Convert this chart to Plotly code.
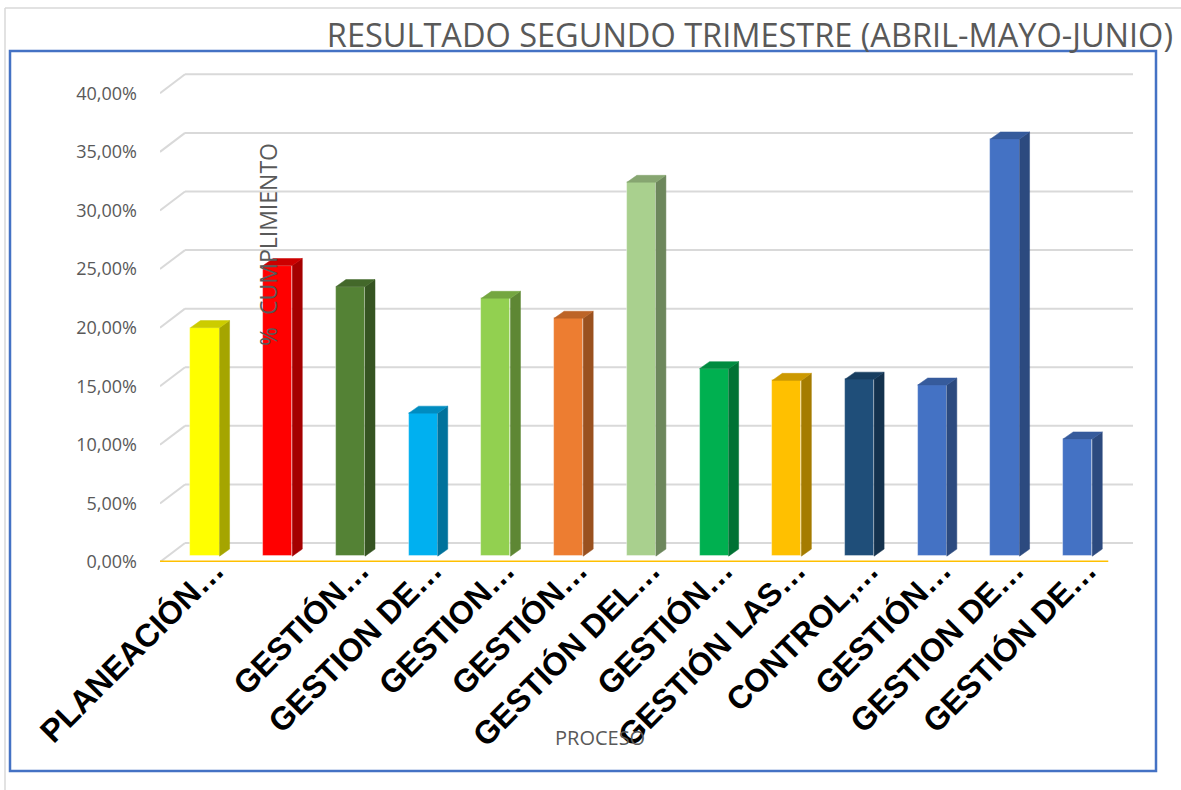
import plotly.graph_objects as go

# ---------------- data ----------------
categories = [
    "PLANEACIÓN…", "", "GESTIÓN…", "GESTION DE…", "GESTION…", "GESTIÓN…",
    "GESTIÓN DEL…", "GESTIÓN…", "GESTIÓN LAS…", "CONTROL,…", "GESTIÓN…",
    "GESTION DE…", "GESTIÓN DE…",
]
values = [0.195, 0.248, 0.230, 0.122, 0.220, 0.203, 0.319, 0.160, 0.150,
          0.151, 0.146, 0.356, 0.100]
bar_colors = ["#FFFF00", "#FF0000", "#548235", "#00B0F0", "#92D050", "#ED7D31",
              "#A9D08E", "#00B050", "#FFC000", "#1F4E79", "#4472C4", "#4472C4",
              "#4472C4"]
y_ticks = [0.0, 0.05, 0.10, 0.15, 0.20, 0.25, 0.30, 0.35, 0.40]

# ---------------- geometry / style constants ----------------
W, H = 1181, 790
L_PX, R_PX, T_PX, B_PX = 160, 1133, 64, 562
X_MIN, X_MAX = -0.619, 12.76
Y_MIN, Y_MAX = 0.0, 0.425
BAR_W = 0.40          # front face width (category units)
DEPTH_X = 0.1375      # side face horizontal depth
DEPTH_Y = 0.006       # side face vertical rise
BASE = 0.005          # bar front face starts slightly above front edge
BACK_DX = 0.344       # back wall offset (x units)
BACK_DY = 0.0162      # back wall offset (y units)
FRONT_RIGHT = 12.42

def px_to_paper(px, py):
    return ((px - L_PX) / (R_PX - L_PX), (B_PX - py) / (B_PX - T_PX))

def shade(hexcol, f):
    h = hexcol.lstrip("#")
    r, g, b = (int(h[i:i + 2], 16) for i in (0, 2, 4))
    return "#%02X%02X%02X" % (int(r * f), int(g * f), int(b * f))

fig = go.Figure()
idx = list(range(len(values)))

# side and top faces
for i, (v, c) in enumerate(zip(values, bar_colors)):
    xr = i + BAR_W / 2
    xl = i - BAR_W / 2
    top = BASE + v
    fig.add_trace(go.Scatter(
        x=[xr, xr, xr + DEPTH_X, xr + DEPTH_X, xr],
        y=[BASE, top, top + DEPTH_Y, BASE + DEPTH_Y, BASE],
        fill="toself", fillcolor=shade(c, 0.65), mode="lines",
        line=dict(color=shade(c, 0.65), width=0.5),
        hoverinfo="skip", showlegend=False))
    fig.add_trace(go.Scatter(
        x=[xl, xr, xr + DEPTH_X, xl + DEPTH_X, xl],
        y=[top, top, top + DEPTH_Y, top + DEPTH_Y, top],
        fill="toself", fillcolor=shade(c, 0.8), mode="lines",
        line=dict(color=shade(c, 0.8), width=0.5),
        hoverinfo="skip", showlegend=False))

# front faces
fig.add_trace(go.Bar(x=idx, y=values, base=BASE, width=BAR_W,
                     marker=dict(color=bar_colors,
                                 line=dict(color="rgba(255,255,255,0.5)", width=0.8)),
                     showlegend=False))

# back-wall gridlines (with diagonal connectors from the front edge), drawn below traces
shapes = []
for t in y_ticks:
    shapes.append(dict(type="line", xref="x", yref="y", x0=X_MIN, y0=t,
                       x1=X_MIN + BACK_DX, y1=t + BACK_DY,
                       line=dict(color="#D9D9D9", width=2), layer="below"))
    shapes.append(dict(type="line", xref="x", yref="y", x0=X_MIN + BACK_DX, y0=t + BACK_DY,
                       x1=X_MAX, y1=t + BACK_DY,
                       line=dict(color="#D9D9D9", width=2), layer="below"))
# front edge (orange floor line)
shapes.append(dict(type="line", xref="x", yref="y", x0=X_MIN, y0=0, x1=FRONT_RIGHT, y1=0,
                   line=dict(color="#FFC000", width=3), layer="below"))

ax_x, ax_y = px_to_paper(268, 245)
pr_x, pr_y = px_to_paper(600, 737)
b0x, b0y = px_to_paper(10, 771)
b1x, b1y = px_to_paper(1156, 51)
g0x, g0y = px_to_paper(5, 790)
g1x, g1y = px_to_paper(1181, 8)

shapes += [
    dict(type="line", xref="paper", yref="paper", x0=g0x, x1=g0x, y0=g0y, y1=g1y,
         line=dict(color="#D9D9D9", width=1.5), layer="below"),
    dict(type="line", xref="paper", yref="paper", x0=g0x, x1=g1x, y0=g1y, y1=g1y,
         line=dict(color="#D9D9D9", width=1.5), layer="below"),
    dict(type="rect", xref="paper", yref="paper", x0=b0x, x1=b1x, y0=b0y, y1=b1y,
         line=dict(color="#4472C4", width=2.5), fillcolor="rgba(0,0,0,0)",
         layer="below"),
]

fig.update_layout(
    width=W, height=H,
    margin=dict(l=L_PX, r=W - R_PX, t=T_PX, b=H - B_PX),
    paper_bgcolor="white", plot_bgcolor="white",
    separators=",.",
    bargap=0,
    title=dict(text="RESULTADO SEGUNDO TRIMESTRE (ABRIL-MAYO-JUNIO)",
               font=dict(family="Open Sans", size=32.5, color="#595959"),
               xref="container", x=1173 / W, xanchor="right",
               yref="container", y=1 - 36 / H, yanchor="middle"),
    xaxis=dict(range=[X_MIN, X_MAX], tickvals=[i + 0.13 for i in idx],
               ticktext=categories, tickangle=-45, showgrid=False,
               zeroline=False, showline=False, ticks="",
               ticklabelstandoff=-18,
               tickfont=dict(family="Liberation Sans", size=32, color="black",
                             weight="bold")),
    yaxis=dict(range=[Y_MIN, Y_MAX], tickvals=y_ticks, tickformat=".2%",
               showgrid=False, zeroline=False, showline=False, ticks="",
               ticklabelstandoff=22,
               tickfont=dict(family="Open Sans", size=18, color="#595959")),
    annotations=[
        dict(text="%  CUMPLIMIENTO", textangle=-90, xref="paper", yref="paper",
             x=ax_x, y=ax_y, xanchor="center", yanchor="middle", showarrow=False,
             font=dict(family="Open Sans", size=23, color="#595959")),
        dict(text="PROCESO", xref="paper", yref="paper", x=pr_x, y=pr_y,
             xanchor="center", yanchor="middle", showarrow=False,
             font=dict(family="Open Sans", size=20, color="#595959")),
    ],
    shapes=shapes,
)

fig.write_html("out.html", config={"displayModeBar": False},
               post_script="document.body.style.margin='0px';")
